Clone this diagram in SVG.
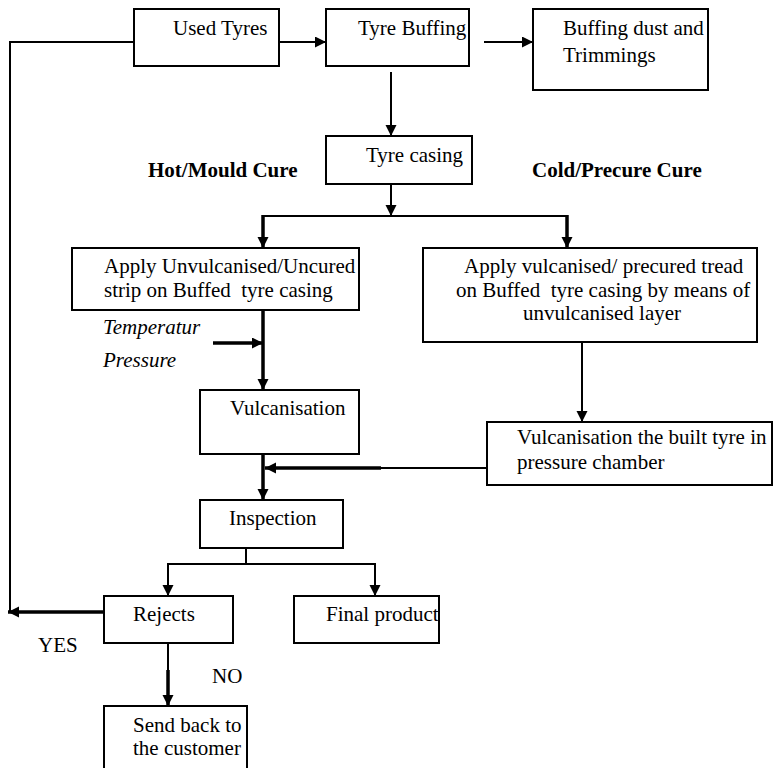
<svg xmlns="http://www.w3.org/2000/svg" width="777" height="768" viewBox="0 0 777 768">
<defs>
<style>
.box{fill:#fff;stroke:#000;stroke-width:2}
text{font-family:'Liberation Serif', 'Times New Roman', Times, serif;font-size:21px;fill:#000;white-space:pre}
.b{font-weight:bold}
.i{font-style:italic}
.ln{fill:none;stroke:#000;stroke-width:2}
.tk{fill:none;stroke:#000;stroke-width:3.5}
</style>
<marker id="ah" markerUnits="userSpaceOnUse" markerWidth="12" markerHeight="12" refX="11" refY="5.5" orient="auto" viewBox="0 0 12 12">
<path d="M0,0 L11,5.5 L0,11 z" fill="#000"/>
</marker>
</defs>
<rect width="777" height="768" fill="#fff"/>

<g id="connectors">
<polyline class="ln" points="134,42 10,42 10,612"/>
<line class="ln" x1="279" y1="42" x2="326" y2="42" marker-end="url(#ah)"/>
<line class="ln" x1="484" y1="42" x2="533" y2="42" marker-end="url(#ah)"/>
<line class="ln" x1="391" y1="72" x2="391" y2="136" marker-end="url(#ah)"/>
<line class="ln" x1="391" y1="184" x2="391" y2="216" marker-end="url(#ah)"/>
<line class="ln" x1="263" y1="216" x2="567" y2="216"/>
<line class="tk" x1="263" y1="215" x2="263" y2="248" marker-end="url(#ah)"/>
<line class="tk" x1="567" y1="215" x2="567" y2="248" marker-end="url(#ah)"/>
<line class="tk" x1="263" y1="310" x2="263" y2="390" marker-end="url(#ah)"/>
<line class="tk" x1="213" y1="343" x2="263" y2="343" marker-end="url(#ah)"/>
<line class="ln" x1="582" y1="342" x2="582" y2="422" marker-end="url(#ah)"/>
<line class="ln" x1="487" y1="468" x2="380" y2="468"/>
<line class="tk" x1="381" y1="468" x2="265" y2="468" marker-end="url(#ah)"/>
<line class="tk" x1="263" y1="454" x2="263" y2="500" marker-end="url(#ah)"/>
<polyline class="ln" points="246,548 246,564"/>
<polyline class="ln" points="168,596 168,564 375,564 375,596"/>
<line class="ln" x1="168" y1="564" x2="168" y2="596" marker-end="url(#ah)"/>
<line class="ln" x1="375" y1="564" x2="375" y2="596" marker-end="url(#ah)"/>
<line class="tk" x1="104" y1="612" x2="8" y2="612" marker-end="url(#ah)"/>
<line class="ln" x1="168" y1="643" x2="168" y2="671"/>
<line class="tk" x1="168" y1="670" x2="168" y2="706" marker-end="url(#ah)"/>
</g>

<g id="used-tyres"><rect class="box" x="134" y="9" width="145" height="57"/><text x="173" y="35">Used Tyres</text></g>
<g id="tyre-buffing"><rect class="box" x="326" y="9" width="143" height="57"/><text x="358" y="35">Tyre Buffing</text></g>
<g id="buffing-dust"><rect class="box" x="533" y="9" width="175" height="81"/><text x="563" y="35">Buffing dust and</text><text x="563" y="62">Trimmings</text></g>
<g id="tyre-casing"><rect class="box" x="326" y="136" width="146" height="48"/><text x="366" y="162">Tyre casing</text></g>
<g id="hot-label"><text class="b" x="148" y="177">Hot/Mould Cure</text></g>
<g id="cold-label"><text class="b" x="532" y="177">Cold/Precure Cure</text></g>
<g id="apply-uncured"><rect class="box" x="72" y="248" width="287" height="62"/><text x="104" y="273">Apply Unvulcanised/Uncured</text><text x="104" y="297">strip on Buffed  tyre casing</text></g>
<g id="apply-precured"><rect class="box" x="423" y="248" width="334" height="94"/><text x="464" y="273">Apply vulcanised/ precured tread</text><text x="456" y="297">on Buffed  tyre casing by means of</text><text x="523" y="320">unvulcanised layer</text></g>
<g id="temp-pressure"><text class="i" x="103" y="334">Temperatur</text><text class="i" x="103" y="367">Pressure</text></g>
<g id="vulcanisation"><rect class="box" x="200" y="390" width="159" height="64"/><text x="230" y="415">Vulcanisation</text></g>
<g id="vulcanisation-chamber"><rect class="box" x="487" y="422" width="285" height="63"/><text x="517" y="444">Vulcanisation the built tyre in</text><text x="517" y="469">pressure chamber</text></g>
<g id="inspection"><rect class="box" x="200" y="500" width="143" height="48"/><text x="229" y="525">Inspection</text></g>
<g id="rejects"><rect class="box" x="104" y="596" width="129" height="47"/><text x="133" y="621">Rejects</text></g>
<g id="final-product"><rect class="box" x="294" y="596" width="145" height="47"/><text x="326" y="621">Final product</text></g>
<g id="yes-label"><text x="38" y="652">YES</text></g>
<g id="no-label"><text x="212" y="683">NO</text></g>
<g id="send-back"><rect class="box" x="104" y="706" width="143" height="70"/><text x="133" y="732">Send back to</text><text x="133" y="755">the customer</text></g>
</svg>
